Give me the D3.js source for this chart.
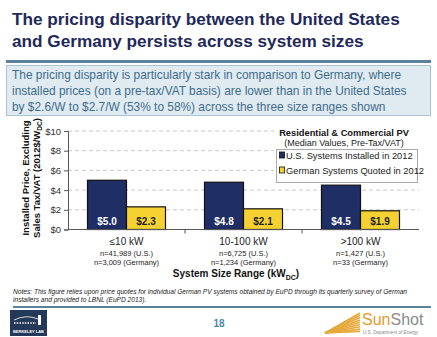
<!DOCTYPE html>
<html>
<head>
	<script src="https://cdn.jsdelivr.net/npm/d3@7"></script>
	<style>
		body { margin: 0; background: white; }
		text { font-family: "Liberation Sans", Arial, sans-serif; }
	</style>
</head>
<body>
	<script>
		// chart data
		var categories = ["\u226410 kW", "10-100 kW", ">100 kW"];
		var nUS = ["n=41,989 (U.S.)", "n=6,725 (U.S.)", "n=1,427 (U.S.)"];
		var nDE = ["n=3,009 (Germany)", "n=1,234 (Germany)", "n=33 (Germany)"];
		var seriesNames = ["U.S. Systems Installed in 2012", "German Systems Quoted in 2012"];
		var usValues = [5.0, 4.8, 4.5];
		var deValues = [2.3, 2.1, 1.9];
		var yTicks = [0, 2, 4, 6, 8, 10];

		var width = 437, height = 337;
		var navy = "#1f2f66", gold = "#f5d232", steel = "#5b819b";

		var svg = d3.select("body").append("svg")
			.attr("width", width)
			.attr("height", height);

		/* title */
		var title = svg.append("text")
			.attr("x", 12)
			.attr("y", 25)
			.style("font-size", "17.2px")
			.style("font-weight", "bold")
			.attr("fill", "#1f2a5a");
		title.append("tspan").attr("x", 12).attr("dy", 0).text("The pricing disparity between the United States");
		title.append("tspan").attr("x", 12).attr("y", 47).text("and Germany persists across system sizes");

		svg.append("rect")
			.attr("x", 6).attr("y", 60).attr("width", 425).attr("height", 3)
			.attr("fill", steel);

		/* callout box */
		svg.append("rect")
			.attr("x", 6.5).attr("y", 65.5).attr("width", 424).attr("height", 50)
			.attr("fill", "#dfeaf1")
			.attr("stroke", "#aac4d4");

		var callout = [
			"The pricing disparity is particularly stark in comparison to Germany, where",
			"installed prices (on a pre-tax/VAT basis) are lower than in the United States",
			"by $2.6/W to $2.7/W (53% to 58%) across the three size ranges shown"
		];
		svg.selectAll(".callout").data(callout).enter().append("text")
			.attr("class", "callout")
			.attr("x", 12)
			.attr("y", function(d, i) { return 79 + i * 16; })
			.style("font-size", "11.9px")
			.attr("fill", "#3f6d8c")
			.text(function(d) { return d; });

		/* chart */
		var plot = { left: 68, right: 419, top: 131, bottom: 229.5 };

		var x0 = d3.scaleBand()
			.domain(categories)
			.range([plot.left, plot.right])
			.paddingInner(1 / 3)
			.paddingOuter(1 / 6);

		var x1 = d3.scaleBand()
			.domain([0, 1])
			.range([0, x0.bandwidth()]);

		var y = d3.scaleLinear()
			.domain([0, 10])
			.range([plot.bottom, plot.top]);

		// gridlines
		svg.append("g").selectAll("line")
			.data(yTicks.filter(function(d) { return d > 0; }))
			.enter().append("line")
			.attr("x1", plot.left).attr("x2", plot.right)
			.attr("y1", function(d) { return y(d); })
			.attr("y2", function(d) { return y(d); })
			.attr("stroke", "#c8c8c8")
			.attr("stroke-dasharray", "4,3")
			.attr("stroke-width", 1);

		// legend background covers gridlines
		svg.append("rect")
			.attr("x", 274).attr("y", 124).attr("width", 146).attr("height", 60)
			.attr("fill", "white");

		var yAxis = svg.append("g")
			.attr("transform", "translate(" + plot.left + ",0)")
			.call(d3.axisLeft(y).tickValues(yTicks).tickSize(4).tickFormat(function(d) { return "$" + d; }));
		yAxis.selectAll("text").style("font-size", "9.5px").attr("fill", "#333").attr("x", -7);
		yAxis.select(".domain").attr("stroke", "#555");
		yAxis.selectAll(".tick line").attr("stroke", "#555");

		// bars
		var groups = svg.append("g").selectAll("g")
			.data(categories)
			.enter().append("g")
			.attr("transform", function(d) { return "translate(" + x0(d) + ",0)"; });

		var seriesValues = [usValues, deValues];
		var barColors = [navy, gold];
		var labelColors = ["white", "#222"];

		groups.selectAll("rect")
			.data(function(d, i) { return [0, 1].map(function(s) { return { s: s, v: seriesValues[s][i] }; }); })
			.enter().append("rect")
			.attr("x", function(d) { return x1(d.s); })
			.attr("y", function(d) { return y(d.v); })
			.attr("width", x1.bandwidth())
			.attr("height", function(d) { return y(0) - y(d.v); })
			.attr("fill", function(d) { return barColors[d.s]; })
			.attr("stroke", "#111")
			.attr("stroke-width", 1.2);

		groups.selectAll(".val")
			.data(function(d, i) { return [0, 1].map(function(s) { return { s: s, v: seriesValues[s][i] }; }); })
			.enter().append("text")
			.attr("class", "val")
			.attr("x", function(d) { return x1(d.s) + x1.bandwidth() / 2; })
			.attr("y", y(0) - 5)
			.attr("text-anchor", "middle")
			.style("font-size", "10px")
			.style("font-weight", "bold")
			.attr("fill", function(d) { return labelColors[d.s]; })
			.text(function(d) { return "$" + d.v.toFixed(1); });

		// x axis
		var xAxis = svg.append("g")
			.attr("transform", "translate(0," + plot.bottom + ")");
		xAxis.append("line")
			.attr("x1", plot.left).attr("x2", plot.right)
			.attr("stroke", "#555");
		xAxis.selectAll(".xt")
			.data(categories.slice(1))
			.enter().append("line")
			.attr("x1", function(d) { return x0(d) - x0.step() * x0.paddingInner() / 2; })
			.attr("x2", function(d) { return x0(d) - x0.step() * x0.paddingInner() / 2; })
			.attr("y1", 0).attr("y2", 4)
			.attr("stroke", "#555");

		var catX = function(d) { return x0(d) + x0.bandwidth() / 2; };
		svg.selectAll(".cat").data(categories).enter().append("text")
			.attr("class", "cat")
			.attr("x", catX).attr("y", 245)
			.attr("text-anchor", "middle")
			.style("font-size", "10px")
			.attr("fill", "#222")
			.text(function(d) { return d; });
		svg.selectAll(".nus").data(categories).enter().append("text")
			.attr("class", "nus")
			.attr("x", catX).attr("y", 256)
			.attr("text-anchor", "middle")
			.style("font-size", "7.5px")
			.attr("fill", "#222")
			.text(function(d, i) { return nUS[i]; });
		svg.selectAll(".nde").data(categories).enter().append("text")
			.attr("class", "nde")
			.attr("x", catX).attr("y", 265)
			.attr("text-anchor", "middle")
			.style("font-size", "7.5px")
			.attr("fill", "#222")
			.text(function(d, i) { return nDE[i]; });

		// axis titles
		var xt = svg.append("text")
			.attr("x", 236).attr("y", 277)
			.attr("text-anchor", "middle")
			.style("font-size", "10px")
			.style("font-weight", "bold")
			.attr("fill", "#111");
		xt.append("tspan").text("System  Size Range  (kW");
		xt.append("tspan").attr("dy", 2.5).style("font-size", "7px").text("DC");
		xt.append("tspan").attr("dy", -2.5).text(")");

		var yt = svg.append("g").attr("transform", "translate(29,178) rotate(-90)");
		yt.append("text")
			.attr("text-anchor", "middle")
			.style("font-size", "9.5px").style("font-weight", "bold").attr("fill", "#111")
			.text("Installed Price, Excluding");
		var yt2 = yt.append("text")
			.attr("y", 10.5)
			.attr("text-anchor", "middle")
			.style("font-size", "9.5px").style("font-weight", "bold").attr("fill", "#111");
		yt2.append("tspan").text("Sales Tax/VAT (2012$/W");
		yt2.append("tspan").attr("dy", 2.5).style("font-size", "6.5px").text("DC");
		yt2.append("tspan").attr("dy", -2.5).text(")");

		// legend
		svg.append("text")
			.attr("x", 344).attr("y", 136)
			.attr("text-anchor", "middle")
			.style("font-size", "9.3px").style("font-weight", "bold").attr("fill", "#111")
			.text("Residential & Commercial PV");
		svg.append("text")
			.attr("x", 344).attr("y", 145.5)
			.attr("text-anchor", "middle")
			.style("font-size", "9px").attr("fill", "#222")
			.text("(Median Values, Pre-Tax/VAT)");
		svg.append("rect")
			.attr("x", 276.5).attr("y", 149.5).attr("width", 141).attr("height", 33)
			.attr("fill", "white").attr("stroke", "#aaa");
		var leg = svg.selectAll(".leg").data(seriesNames).enter().append("g")
			.attr("class", "leg")
			.attr("transform", function(d, i) { return "translate(279," + (155 + i * 15) + ")"; });
		leg.append("rect")
			.attr("x", 0.5).attr("y", -3).attr("width", 5).attr("height", 6)
			.attr("fill", function(d, i) { return barColors[i]; })
			.attr("stroke", "#111").attr("stroke-width", 0.8);
		leg.append("text")
			.attr("x", 7).attr("y", 3.8)
			.style("font-size", "9.3px").attr("fill", "#222")
			.text(function(d) { return d; });

		// notes
		var notes = [
			"Notes: This figure relies upon price quotes for individual German PV systems obtained by EuPD through its quarterly survey of German",
			"installers and provided to LBNL (EuPD 2013)."
		];
		svg.selectAll(".note").data(notes).enter().append("text")
			.attr("class", "note")
			.attr("x", 13)
			.attr("y", function(d, i) { return 293.5 + i * 8.5; })
			.style("font-size", "6.6px").style("font-style", "italic").attr("fill", "#222")
			.text(function(d) { return d; });

		svg.append("rect")
			.attr("x", 13).attr("y", 306).attr("width", 418).attr("height", 2)
			.attr("fill", steel);

		svg.append("text")
			.attr("x", 219).attr("y", 326.5)
			.attr("text-anchor", "middle")
			.style("font-size", "10px").style("font-weight", "bold").attr("fill", "#4a86a8")
			.text("18");

		/* berkeley lab logo */
		var bl = svg.append("g").attr("transform", "translate(10,310)");
		bl.append("rect").attr("width", 37).attr("height", 26).attr("fill", "#24395a");
		bl.append("path")
			.attr("d", "M4,10 Q16,4 28,9")
			.attr("fill", "none").attr("stroke", "white").attr("stroke-width", 0.8);
		bl.append("line").attr("x1", 4).attr("x2", 26).attr("y1", 13).attr("y2", 13)
			.attr("stroke", "white").attr("stroke-width", 1.5).attr("stroke-dasharray", "1.5,1.2");
		bl.append("rect").attr("x", 28).attr("y", 5).attr("width", 3).attr("height", 10).attr("fill", "white");
		bl.append("text").attr("x", 18.5).attr("y", 23).attr("text-anchor", "middle")
			.style("font-size", "4px").style("font-weight", "bold").attr("fill", "white")
			.text("BERKELEY LAB");

		/* sunshot logo */
		var ss = svg.append("g");
		var fan = d3.range(0, 9);
		ss.selectAll(".ray").data(fan).enter().append("line")
			.attr("class", "ray")
			.attr("x1", 325).attr("y1", 333)
			.attr("x2", 360)
			.attr("y2", function(d) { return 313 + d * 2.3; })
			.attr("stroke", "#e6a93c").attr("stroke-width", 1.6);
		var st = ss.append("text").attr("x", 362).attr("y", 325).style("font-size", "16px");
		st.append("tspan").attr("fill", "#e39a2d").text("Sun");
		st.append("tspan").attr("fill", "#8a8a8a").text("Shot");
		ss.append("text").attr("x", 363).attr("y", 333.5).style("font-size", "4.6px").attr("fill", "#888")
			.text("U.S. Department of Energy");
	</script>
</body>
</html>
